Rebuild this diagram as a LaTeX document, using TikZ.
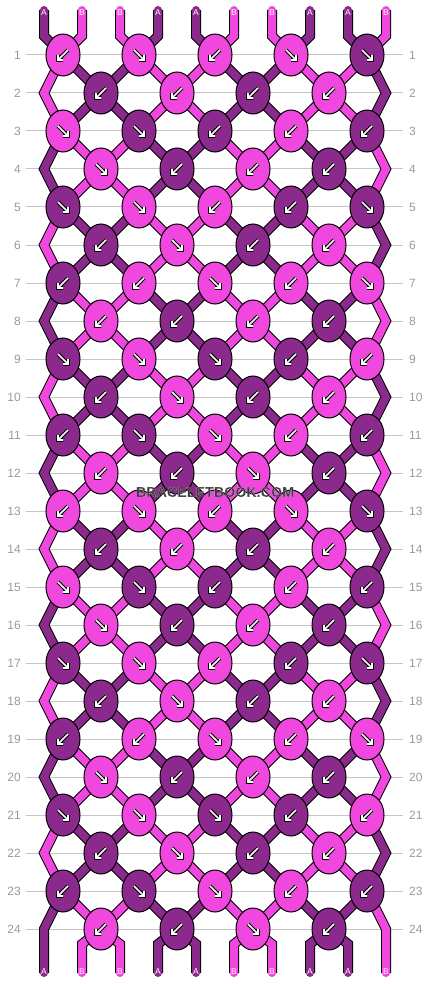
\documentclass[tikz,border=0pt]{standalone}
\usepackage{fontspec}
\setmainfont{Liberation Sans}
\setsansfont{Liberation Sans}
\usetikzlibrary{shapes.geometric}

\definecolor{A}{HTML}{8B2A8C}
\definecolor{B}{HTML}{F047DE}
\definecolor{guide}{HTML}{C4C4C4}
\definecolor{rownum}{HTML}{9A9A9A}
\definecolor{wmtext}{HTML}{3A3A3A}

\pgfdeclarelayer{guides}
\pgfdeclarelayer{threads}
\pgfsetlayers{guides,threads,main}

% colour of the thread at position #2 just below row #1
\newcommand{\setthread}[2]{%
  \pgfmathtruncatemacro{\isA}{mod((mod(#2,4)<2)+mod(floor((#1+1)/2),2),2)}%
  \ifnum\isA=1 \def\thcol{A}\else\def\thcol{B}\fi}

% light rim round the watermark letters
\newcommand{\rimtext}[1]{%
  \special{pdf:literal direct 2 Tr 0.12 w 0.8 0.8 0.8 RG}#1\special{pdf:literal direct 0 Tr}}

\begin{document}
\begin{tikzpicture}[x=1pt, y=-1pt, font=\sffamily, line join=miter]
    \useasboundingbox (0,0) rectangle (430,984);

    \tikzset{
        knot/.style = {ellipse, draw=black, line width=1pt, minimum width=34pt, minimum height=42pt, inner sep=0pt},
        thread/.style = {draw=#1, line width=8pt, preaction={draw=black, line width=10pt}},
        endthread/.style = {thread=#1, line cap=round},
        arrowmark/.style = {draw=white, line width=1.6pt, preaction={draw=black, line width=3.6pt}},
        rownum/.style = {text=rownum, font=\sffamily\fontsize{12}{12}\selectfont, inner sep=0pt},
        letter/.style = {text=white, font=\sffamily\fontsize{8.5}{9}\selectfont, inner sep=0pt},
        watermark/.style = {font=\sffamily\bfseries\fontsize{14.3}{14}\selectfont, inner sep=0pt},
        pics/arrow sw/.style = {code={\draw[arrowmark] (5,-5) -- (-5,5) (-5,0) -- (-5,5) -- (0,5);}},
        pics/arrow se/.style = {code={\draw[arrowmark] (-5,-5) -- (5,5) (5,0) -- (5,5) -- (0,5);}},
    }

    % knots, row by row: colour/direction
    \foreach \row/\knots in {
        1/{B/sw,B/se,B/sw,B/se,A/se},
        2/{A/sw,B/sw,A/sw,B/sw},
        3/{B/se,A/se,A/sw,B/sw,A/sw},
        4/{B/se,A/sw,B/sw,A/sw},
        5/{A/se,B/se,B/sw,A/sw,A/se},
        6/{A/sw,B/se,A/sw,B/sw},
        7/{A/sw,B/sw,B/se,B/sw,B/se},
        8/{B/sw,A/sw,B/sw,A/sw},
        9/{A/se,B/se,A/se,A/sw,B/sw},
        10/{A/sw,B/se,A/sw,B/sw},
        11/{A/sw,A/se,B/se,B/sw,A/sw},
        12/{B/sw,A/sw,B/se,A/sw},
        13/{B/sw,B/se,B/sw,B/se,A/se},
        14/{A/sw,B/sw,A/sw,B/sw},
        15/{B/se,A/se,A/sw,B/sw,A/sw},
        16/{B/se,A/sw,B/sw,A/sw},
        17/{A/se,B/se,B/sw,A/sw,A/se},
        18/{A/sw,B/se,A/sw,B/sw},
        19/{A/sw,B/sw,B/se,B/sw,B/se},
        20/{B/se,A/sw,B/sw,A/sw},
        21/{A/se,B/se,A/se,A/sw,B/sw},
        22/{A/sw,B/se,A/sw,B/sw},
        23/{A/sw,A/se,B/se,B/sw,A/sw},
        24/{B/sw,A/sw,B/se,A/sw}}{
            \foreach \kc/\dir [count=\i] in \knots {
                \pgfmathtruncatemacro{\cc}{2*\i-mod(\row,2)}
                \node[knot, fill=\kc] (k-\row-\cc) at (25+38*\cc, 17+38*\row) {};
                \pic at (k-\row-\cc) {arrow \dir};
            }
        }

    \begin{pgfonlayer}{threads}
        % between the knots
        \foreach \row in {1,...,23} {
            \pgfmathtruncatemacro{\rn}{\row+1}
            \foreach \cc in {1,...,8} {
                \pgfmathtruncatemacro{\cn}{\cc+1}
                \pgfmathtruncatemacro{\odd}{mod(\row+\cc,2)}
                \setthread{\row}{\cn}
                \ifnum\odd=0
                    \draw[thread=\thcol] (k-\row-\cc.center) -- (k-\rn-\cn.center);
                \else
                    \draw[thread=\thcol] (k-\row-\cn.center) -- (k-\rn-\cc.center);
                \fi
            }
        }

        % round the edges
        \foreach \row in {2,4,...,22} {
            \pgfmathtruncatemacro{\up}{\row-1}
            \pgfmathtruncatemacro{\dn}{\row+1}
            \coordinate (edgeL-\row) at (44, 17+38*\row);
            \coordinate (edgeR-\row) at (386, 17+38*\row);
            \setthread{\row}{1}
            \draw[thread=\thcol] (k-\up-1.center) -- (edgeL-\row) -- (k-\dn-1.center);
            \setthread{\row}{10}
            \draw[thread=\thcol] (k-\up-9.center) -- (edgeR-\row) -- (k-\dn-9.center);
        }

        % loose ends at the top
        \foreach \p in {1,...,10} {
            \pgfmathtruncatemacro{\cc}{2*floor((\p+1)/2)-1}
            \setthread{0}{\p}
            \coordinate (top-\p) at (6+38*\p, 10);
            \coordinate (topbend-\p) at (6+38*\p, 36);
            \draw[endthread=\thcol] (top-\p) -- (topbend-\p) -- (k-1-\cc.center);
        }

        % loose ends at the bottom
        \foreach \p in {1,...,10}
            \coordinate (bot-\p) at (6+38*\p, 973);
        \foreach \p in {2,...,9} {
            \pgfmathtruncatemacro{\cc}{2*floor(\p/2)}
            \setthread{24}{\p}
            \coordinate (botbend-\p) at (6+38*\p, 944);
            \draw[endthread=\thcol] (k-24-\cc.center) -- (botbend-\p) -- (bot-\p);
        }
        \coordinate (edgeL-24) at (44, 929);
        \coordinate (edgeR-24) at (386, 929);
        \setthread{24}{1}
        \draw[endthread=\thcol] (k-23-1.center) -- (edgeL-24) -- (bot-1);
        \setthread{24}{10}
        \draw[endthread=\thcol] (k-23-9.center) -- (edgeR-24) -- (bot-10);
    \end{pgfonlayer}

    \foreach \p in {1,...,10} {
        \setthread{0}{\p}
        \node[letter] (lt-\p) at (6+38*\p, 13) {\thcol};
        \node[letter] (lb-\p) at (6+38*\p, 972) {\thcol};
    }

    \begin{pgfonlayer}{guides}
        \foreach \row in {1,...,24} {
            \node[rownum, anchor=east] (nl-\row) at (21, 17+38*\row) {\row};
            \node[rownum, anchor=west] (nr-\row) at (409, 17+38*\row) {\row};
            \draw[guide, line width=1pt, shorten <=5pt, shorten >=6pt] (nl-\row) -- (nr-\row);
        }
    \end{pgfonlayer}

    \node[watermark, text=wmtext] (wm) at (215, 492) {\rimtext{BRACELETBOOK.COM}};

\end{tikzpicture}
\end{document}
